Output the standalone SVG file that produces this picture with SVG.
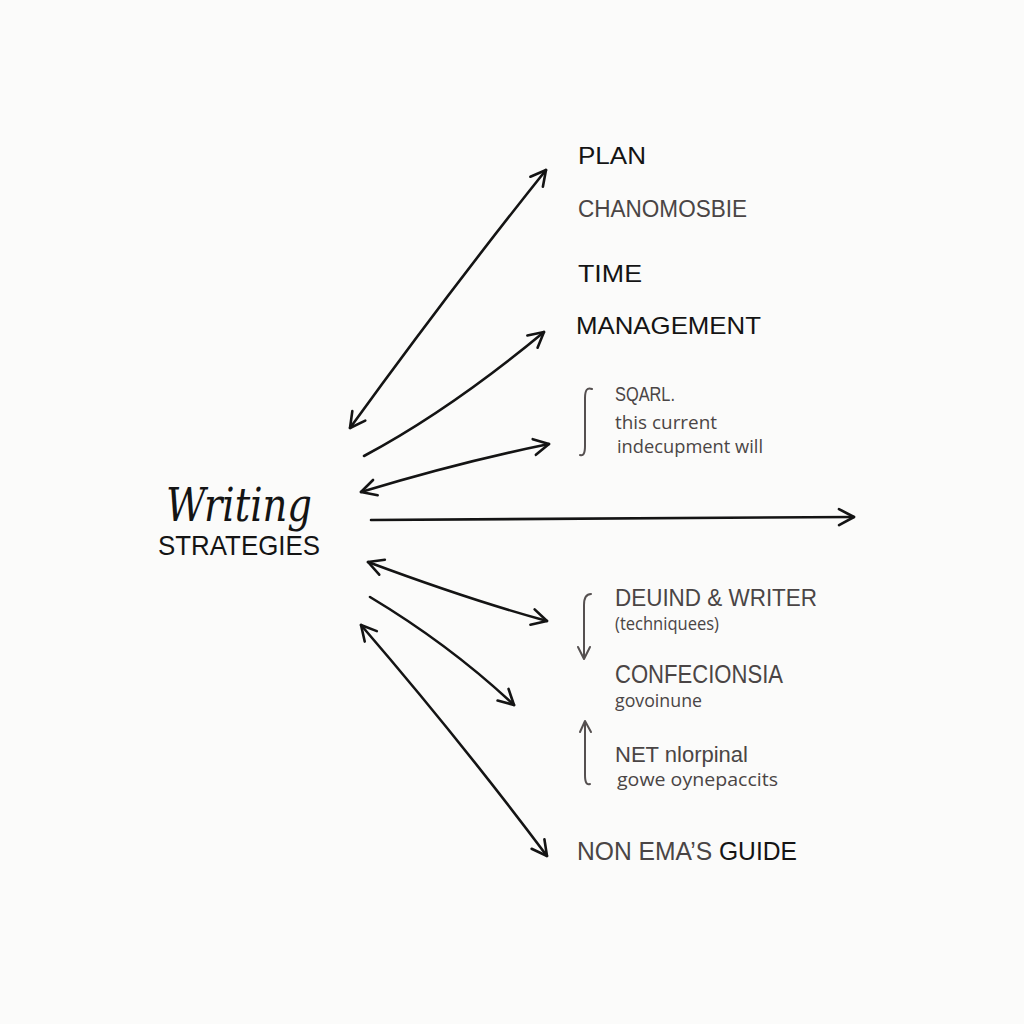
<svg xmlns="http://www.w3.org/2000/svg" width="1024" height="1024" viewBox="0 0 1024 1024">
<style>
.bg{fill:#fbfbfa}
.ln{fill:none;stroke:#141414;stroke-width:2.6;stroke-linecap:round;stroke-linejoin:round}
.br{fill:none;stroke:#555050;stroke-width:2;stroke-linecap:round;stroke-linejoin:round}
.k{font-family:"Liberation Sans","DejaVu Sans",sans-serif;fill:#141414}
.g{font-family:"Liberation Sans","DejaVu Sans",sans-serif;fill:#4a4545}
.s{font-family:"Open Sans","Liberation Sans",sans-serif;fill:#4a4545}
</style>
<defs>
<marker id="ah" viewBox="0 0 20 20" refX="18" refY="10" markerWidth="20" markerHeight="20" markerUnits="userSpaceOnUse" orient="auto-start-reverse">
<path d="M3,2 L18,10 L3,18" fill="none" stroke="#141414" stroke-width="2.6" stroke-linecap="round" stroke-linejoin="round"/>
</marker>
</defs>
<rect class="bg" x="0" y="0" width="1024" height="1024"/>
<g id="connectors">
<path class="ln" d="M350,428 Q450,290 546,170" marker-start="url(#ah)" marker-end="url(#ah)"/>
<path class="ln" d="M364,456 Q450,410 544,332" marker-end="url(#ah)"/>
<path class="ln" d="M361,492 Q460,462 549,444" marker-start="url(#ah)" marker-end="url(#ah)"/>
<path class="ln" d="M371,520 L854,517" marker-end="url(#ah)"/>
<path class="ln" d="M368,562 Q470,600 547,621" marker-start="url(#ah)" marker-end="url(#ah)"/>
<path class="ln" d="M370,597 Q450,645 514,705" marker-end="url(#ah)"/>
<path class="ln" d="M361,625 Q460,740 547,856" marker-start="url(#ah)" marker-end="url(#ah)"/>
</g>
<g id="brackets">
<path class="br" d="M592,389 Q585,386 585,398 L585,446 Q585,457 580,455"/>
<path class="br" d="M591,594 Q584,594 584,605 L584,658"/>
<path class="br" d="M578,647 L584,659 L590,647"/>
<path class="br" d="M590,784 Q585,786 585,775 L585,722"/>
<path class="br" d="M580,732 L585,721 L591,732"/>
</g>
<g id="center">
<text class="k" x="166" y="521" font-size="46" font-style="italic" style="font-family:'DejaVu Serif',serif" textLength="146" lengthAdjust="spacingAndGlyphs">Writing</text>
<text class="k" x="158" y="555" font-size="28" textLength="162" lengthAdjust="spacingAndGlyphs">STRATEGIES</text>
</g>
<g id="plan">
<text class="k" x="578" y="164" font-size="24" textLength="68" lengthAdjust="spacingAndGlyphs">PLAN</text>
<text class="g" x="578" y="217" font-size="23" textLength="169" lengthAdjust="spacingAndGlyphs">CHANOMOSBIE</text>
</g>
<g id="time">
<text class="k" x="578" y="282" font-size="24" textLength="64" lengthAdjust="spacingAndGlyphs">TIME</text>
<text class="k" x="576" y="334" font-size="24" textLength="185" lengthAdjust="spacingAndGlyphs">MANAGEMENT</text>
</g>
<g id="sqarl">
<text class="g" x="615" y="401" font-size="20" textLength="60" lengthAdjust="spacingAndGlyphs">SQARL.</text>
<text class="s" x="615" y="429" font-size="19" textLength="102" lengthAdjust="spacingAndGlyphs">this current</text>
<text class="s" x="617" y="453" font-size="19" textLength="146" lengthAdjust="spacingAndGlyphs">indecupment will</text>
</g>
<g id="deuind">
<text class="g" x="615" y="606" font-size="24" textLength="202" lengthAdjust="spacingAndGlyphs">DEUIND &amp; WRITER</text>
<text class="s" x="615" y="630" font-size="18" textLength="104" lengthAdjust="spacingAndGlyphs">(techniquees)</text>
</g>
<g id="confecionsia">
<text class="g" x="615" y="683" font-size="25" textLength="168" lengthAdjust="spacingAndGlyphs">CONFECIONSIA</text>
<text class="s" x="615" y="707" font-size="19" textLength="87" lengthAdjust="spacingAndGlyphs">govoinune</text>
</g>
<g id="net">
<text class="g" x="615" y="762" font-size="22" textLength="133" lengthAdjust="spacingAndGlyphs">NET nlorpinal</text>
<text class="s" x="617" y="786" font-size="19" textLength="161" lengthAdjust="spacingAndGlyphs">gowe oynepaccits</text>
</g>
<g id="guide">
<text class="g" x="577" y="860" font-size="25" textLength="220" lengthAdjust="spacingAndGlyphs">NON EMA’S <tspan fill="#141414">GUIDE</tspan></text>
</g>
</svg>
